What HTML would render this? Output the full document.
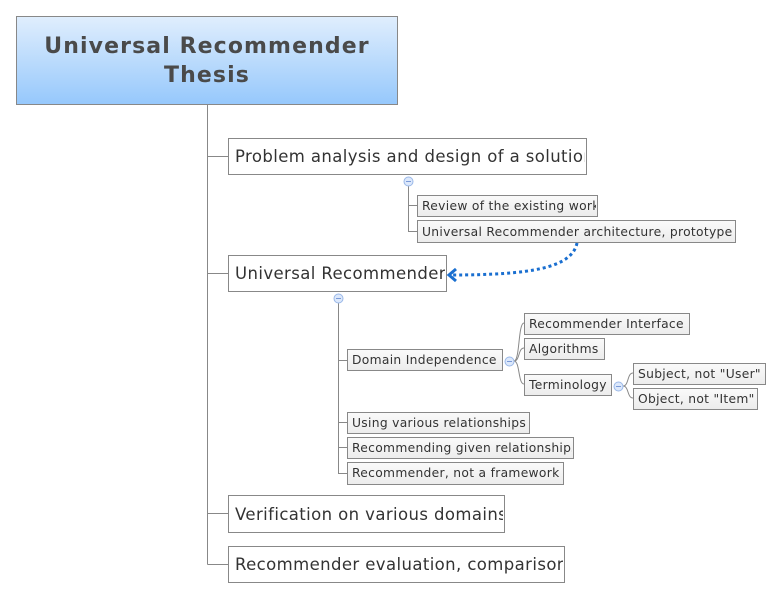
<!DOCTYPE html>
<html><head><meta charset="utf-8"><style>
html,body{margin:0;padding:0;background:#fff;width:782px;height:599px;overflow:hidden}
svg{display:block}
text{font-family:"DejaVu Sans","Liberation Sans",sans-serif;fill:#333}
</style></head><body>
<svg width="782" height="599" viewBox="0 0 782 599" xmlns="http://www.w3.org/2000/svg">
<defs>
<linearGradient id="rg" x1="0" y1="0" x2="0" y2="1"><stop offset="0" stop-color="#e0eefd"/><stop offset="1" stop-color="#96c8fc"/></linearGradient>
<linearGradient id="sg" x1="0" y1="0" x2="0" y2="1"><stop offset="0" stop-color="#fafafa"/><stop offset="1" stop-color="#ececec"/></linearGradient>
<clipPath id="c1"><rect x="228" y="138" width="357" height="36"/></clipPath>
<clipPath id="c2"><rect x="228" y="255" width="217" height="36"/></clipPath>
<clipPath id="c3"><rect x="228" y="495" width="275" height="37"/></clipPath>
<clipPath id="c4"><rect x="228" y="546" width="335" height="36"/></clipPath>
<clipPath id="s1"><rect x="417" y="195" width="179" height="21"/></clipPath>
<clipPath id="s2"><rect x="417" y="220" width="317" height="22"/></clipPath>
<clipPath id="s3"><rect x="347" y="412" width="181" height="21"/></clipPath>
<clipPath id="s4"><rect x="347" y="437" width="225" height="21"/></clipPath>
<clipPath id="s5"><rect x="347" y="462" width="215" height="22"/></clipPath>
</defs>
<g stroke="#888" stroke-width="1" fill="none">
<line x1="207.5" y1="104" x2="207.5" y2="564.5"/>
<path d="M207.5 156.5H228M207.5 273.5H228M207.5 513.5H228M207.5 564.5H228"/>
<path d="M408.5 186V231.5H417M408.5 205.5H417"/>
<path d="M338.5 303V473.5H347M338.5 360.5H347M338.5 422.5H347M338.5 447.5H347"/>
<path d="M514 361 C520 361 518 323 524 323 M514 361 C520 361 518 348 524 348 M514 361 C520 361 518 384 524 384"/>
<path d="M623 386 C629 386 627 373 633 373 M623 386 C629 386 627 398 633 398"/>
</g>
<rect x="16.5" y="16.5" width="381" height="88" fill="url(#rg)" stroke="#888"/>
<text x="207" y="53" text-anchor="middle" font-size="22" font-weight="bold" letter-spacing="1.1" style="fill:#4a4a4a">Universal Recommender</text>
<text x="207" y="82" text-anchor="middle" font-size="22" font-weight="bold" letter-spacing="1.1" style="fill:#4a4a4a">Thesis</text>
<g fill="#fff" stroke="#888">
<rect x="228.5" y="138.5" width="358" height="36"/>
<rect x="228.5" y="255.5" width="218" height="36"/>
<rect x="228.5" y="495.5" width="276" height="37"/>
<rect x="228.5" y="546.5" width="336" height="36"/>
</g>
<g font-size="16.5" letter-spacing="0.4">
<text x="235" y="162" clip-path="url(#c1)">Problem analysis and design of a solution</text>
<text x="235" y="279" clip-path="url(#c2)">Universal Recommender</text>
<text x="235" y="520" clip-path="url(#c3)">Verification on various domains</text>
<text x="235" y="570" clip-path="url(#c4)">Recommender evaluation, comparison</text>
</g>
<g fill="url(#sg)" stroke="#888">
<rect x="417.5" y="195.5" width="180" height="21"/>
<rect x="417.5" y="220.5" width="318" height="22"/>
<rect x="347.5" y="349.5" width="155" height="21"/>
<rect x="524.5" y="313.5" width="165" height="21"/>
<rect x="524.5" y="338.5" width="80" height="21"/>
<rect x="524.5" y="374.5" width="87" height="21"/>
<rect x="633.5" y="363.5" width="132" height="21"/>
<rect x="633.5" y="388.5" width="124" height="21"/>
<rect x="347.5" y="412.5" width="182" height="21"/>
<rect x="347.5" y="437.5" width="226" height="21"/>
<rect x="347.5" y="462.5" width="216" height="22"/>
</g>
<g font-size="12.3" letter-spacing="0.3">
<text x="422" y="210" clip-path="url(#s1)">Review of the existing work</text>
<text x="422" y="236" clip-path="url(#s2)">Universal Recommender architecture, prototype</text>
<text x="352" y="364">Domain Independence</text>
<text x="529" y="328">Recommender Interface</text>
<text x="529" y="353">Algorithms</text>
<text x="529" y="389">Terminology</text>
<text x="638" y="378">Subject, not "User"</text>
<text x="638" y="403">Object, not "Item"</text>
<text x="352" y="427" clip-path="url(#s3)">Using various relationships</text>
<text x="352" y="452" clip-path="url(#s4)">Recommending given relationships</text>
<text x="352" y="477" clip-path="url(#s5)">Recommender, not a framework</text>
</g>
<g fill="#dce8fb" stroke="#9ab8e8" stroke-width="1">
<circle cx="408.5" cy="181.5" r="4.5"/>
<circle cx="338.5" cy="298.5" r="4.5"/>
<circle cx="509.5" cy="361.5" r="4.5"/>
<circle cx="618.5" cy="386.5" r="4.5"/>
</g>
<g stroke="#7a9ad8" stroke-width="1">
<line x1="406" y1="181.5" x2="411" y2="181.5"/>
<line x1="336" y1="298.5" x2="341" y2="298.5"/>
<line x1="507" y1="361.5" x2="512" y2="361.5"/>
<line x1="616" y1="386.5" x2="621" y2="386.5"/>
</g>
<path d="M577 243 C572 268 530 275 451 275" fill="none" stroke="#1a6fd0" stroke-width="3" stroke-dasharray="3 3"/>
<path d="M456 269 L449 275 L456 281" fill="none" stroke="#1a6fd0" stroke-width="3"/>
</svg>
</body></html>
